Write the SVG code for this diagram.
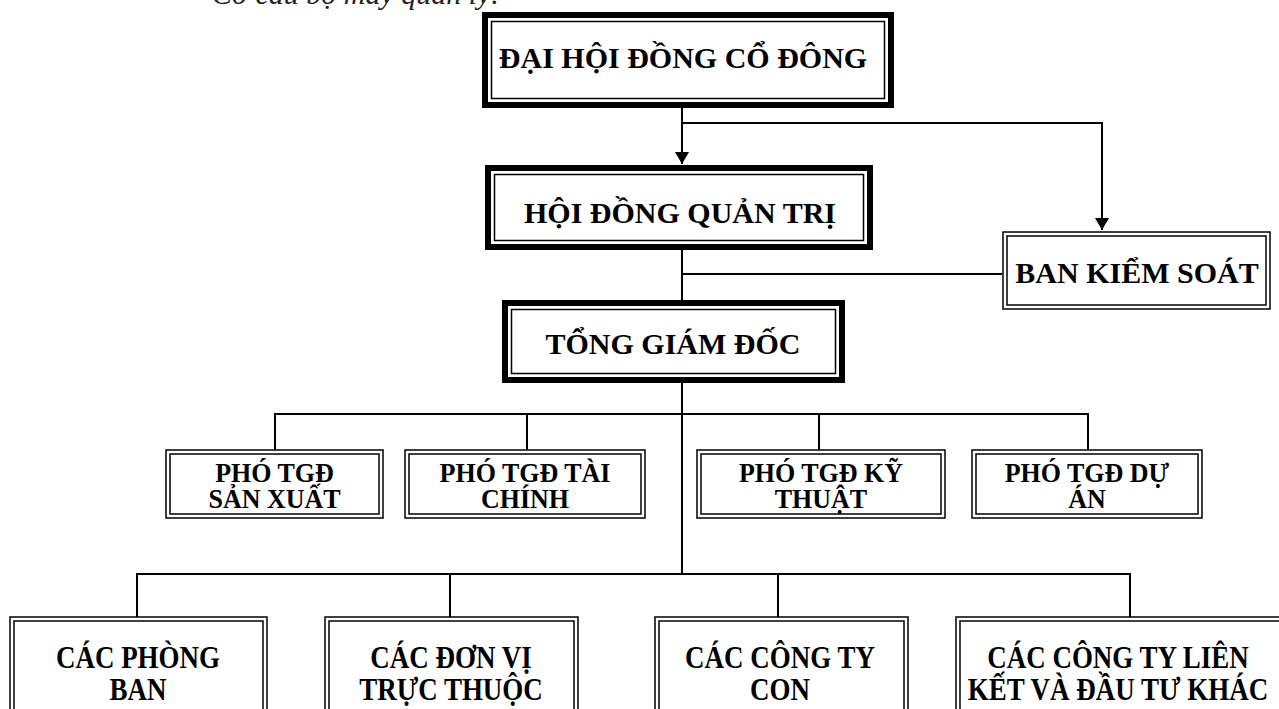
<svg xmlns="http://www.w3.org/2000/svg" width="1279" height="709" viewBox="0 0 1279 709">
<style>
.bg{fill:#fff}
.tk{fill:none;stroke:#000;stroke-width:6}
.tn{fill:none;stroke:#000;stroke-width:1.5}
.ln{fill:none;stroke:#000;stroke-width:2}
.t{font-family:"Liberation Serif","Times New Roman",serif;font-weight:bold;font-size:30px;text-anchor:middle;fill:#000}
.s{font-size:27px}
.p{font-size:26px}
.h{font-family:"Liberation Serif","Times New Roman",serif;font-style:italic;font-size:30px;fill:#222}
</style>
<defs>
<marker id="arr" viewBox="0 0 12 14" refX="12" refY="7" markerWidth="12" markerHeight="14" markerUnits="userSpaceOnUse" orient="auto">
<path d="M0,0 L12,7 L0,14 Z" fill="#000"/>
</marker>
</defs>
<rect class="bg" x="0" y="0" width="1279" height="709"/>
<text class="h" x="212" y="4">Cơ cấu bộ máy quản lý:</text>

<g id="connectors">
<path class="ln" d="M682,108 V164" marker-end="url(#arr)"/>
<path class="ln" d="M682,123 H1102 V230" marker-end="url(#arr)"/>
<path class="ln" d="M682,250 V300"/>
<path class="ln" d="M682,274 H1002"/>
<path class="ln" d="M682,383 V574"/>
<path class="ln" d="M275,450 V414 H1088 V450"/>
<path class="ln" d="M527,414 V450"/>
<path class="ln" d="M819,414 V450"/>
<path class="ln" d="M137,617 V574 H1130 V617"/>
<path class="ln" d="M450,574 V617"/>
<path class="ln" d="M778,574 V617"/>
</g>

<g id="dhdcd">
<rect class="tk" x="485" y="15" width="406" height="90"/>
<rect class="tn" x="491.5" y="21.5" width="393" height="77"/>
<text class="t" x="683" y="68">ĐẠI HỘI ĐỒNG CỔ ĐÔNG</text>
</g>

<g id="hdqt">
<rect class="tk" x="488" y="168" width="382" height="79"/>
<rect class="tn" x="494.5" y="174.5" width="369" height="66"/>
<text class="t" x="680" y="223">HỘI ĐỒNG QUẢN TRỊ</text>
</g>

<g id="bks">
<rect class="tn" x="1003" y="232" width="267" height="77"/>
<rect class="tn" x="1007" y="236" width="259" height="69"/>
<text class="t" x="1137" y="283">BAN KIỂM SOÁT</text>
</g>

<g id="tgd">
<rect class="tk" x="505" y="303" width="337" height="77"/>
<rect class="tn" x="511.5" y="309.5" width="324" height="64"/>
<text class="t" x="673" y="354">TỔNG GIÁM ĐỐC</text>
</g>

<g id="ptgd-sx">
<rect class="tn" x="166" y="450" width="217" height="68"/>
<rect class="tn" x="170" y="454" width="209" height="60"/>
<text class="t p" transform="translate(274.5,482) scale(1,1.05)"><tspan x="0" y="0">PHÓ TGĐ</tspan><tspan x="0" dy="24.8">SẢN XUẤT</tspan></text>
</g>

<g id="ptgd-tc">
<rect class="tn" x="405" y="450" width="240" height="68"/>
<rect class="tn" x="409" y="454" width="232" height="60"/>
<text class="t p" transform="translate(525,482) scale(1,1.05)"><tspan x="0" y="0">PHÓ TGĐ TÀI</tspan><tspan x="0" dy="24.8">CHÍNH</tspan></text>
</g>

<g id="ptgd-kt">
<rect class="tn" x="697" y="450" width="248" height="68"/>
<rect class="tn" x="701" y="454" width="240" height="60"/>
<text class="t p" transform="translate(821,482) scale(1,1.05)"><tspan x="0" y="0">PHÓ TGĐ KỸ</tspan><tspan x="0" dy="24.8">THUẬT</tspan></text>
</g>

<g id="ptgd-da">
<rect class="tn" x="972" y="450" width="230" height="68"/>
<rect class="tn" x="976" y="454" width="222" height="60"/>
<text class="t p" transform="translate(1087,482) scale(1,1.05)"><tspan x="0" y="0">PHÓ TGĐ DỰ</tspan><tspan x="0" dy="24.8">ÁN</tspan></text>
</g>

<g id="cac-phong-ban">
<rect class="tn" x="10" y="617" width="257" height="110"/>
<rect class="tn" x="14" y="621" width="249" height="102"/>
<text class="t s" transform="translate(138,668) scale(1,1.15)"><tspan x="0" y="0">CÁC PHÒNG</tspan><tspan x="0" dy="27.8">BAN</tspan></text>
</g>

<g id="cac-don-vi">
<rect class="tn" x="325" y="617" width="253" height="110"/>
<rect class="tn" x="329" y="621" width="245" height="102"/>
<text class="t s" transform="translate(451,668) scale(1,1.15)"><tspan x="0" y="0">CÁC ĐƠN VỊ</tspan><tspan x="0" dy="27.8">TRỰC THUỘC</tspan></text>
</g>

<g id="cac-cong-ty-con">
<rect class="tn" x="655" y="617" width="253" height="110"/>
<rect class="tn" x="659" y="621" width="245" height="102"/>
<text class="t s" transform="translate(780,668) scale(1,1.15)"><tspan x="0" y="0">CÁC CÔNG TY</tspan><tspan x="0" dy="27.8">CON</tspan></text>
</g>

<g id="cac-cong-ty-lk">
<rect class="tn" x="956" y="617" width="340" height="110"/>
<rect class="tn" x="960" y="621" width="332" height="102"/>
<text class="t s" transform="translate(1118,668) scale(1,1.15)"><tspan x="0" y="0">CÁC CÔNG TY LIÊN</tspan><tspan x="0" dy="27.8">KẾT VÀ ĐẦU TƯ KHÁC</tspan></text>
</g>
</svg>
